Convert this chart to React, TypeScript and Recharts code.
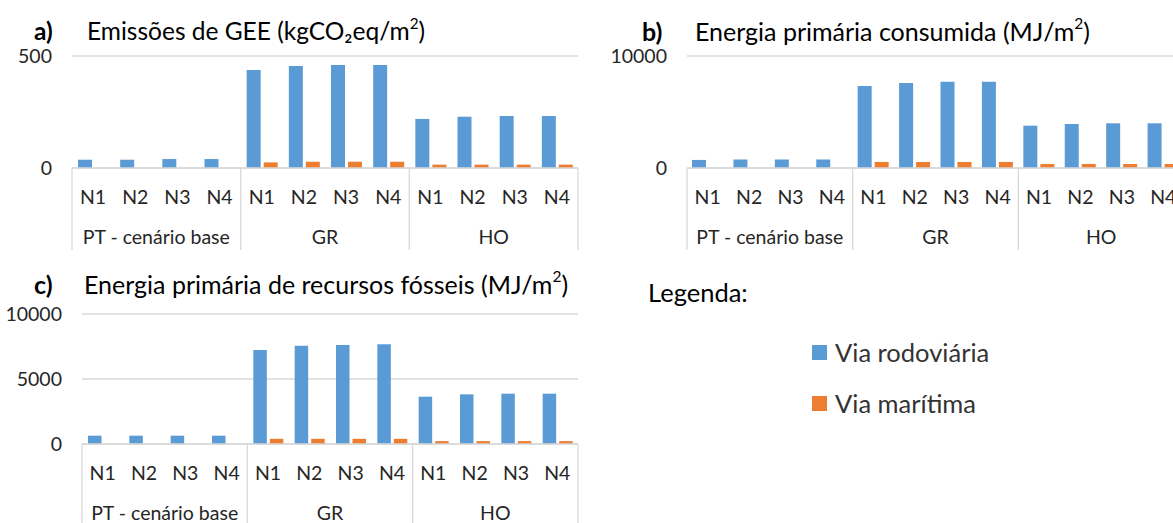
import { BarChart, Bar, XAxis, YAxis, CartesianGrid } from "recharts";

const groups = ["PT - cenário base", "GR", "HO"];
const levels = ["N1", "N2", "N3", "N4"];
const seriesNames = ["Via rodoviária", "Via marítima"];

// a) Emissões de GEE (kgCO2eq/m2)
const ghgRoad = [37, 37, 40, 40, 437, 455, 460, 460, 219, 229, 232, 232];
const ghgSea = [0, 0, 0, 0, 25, 28, 28, 28, 15, 15, 15, 15];

// b) Energia primária consumida (MJ/m2)
const peRoad = [720, 760, 760, 760, 7320, 7590, 7700, 7700, 3780, 3930, 3990, 3990];
const peSea = [0, 0, 0, 0, 540, 540, 540, 540, 360, 360, 360, 360];

// c) Energia primária de recursos fósseis (MJ/m2)
const fosRoad = [640, 640, 640, 640, 7230, 7560, 7610, 7670, 3640, 3820, 3870, 3870];
const fosSea = [0, 0, 0, 0, 400, 400, 400, 400, 220, 220, 220, 220];

const BLUE = "#5B9BD5";
const ORANGE = "#ED7D31";
const GRID = "#D9D9D9";
const FONT = "Lato, 'Open Sans', sans-serif";
const TICK_SIZE = 19.5;

function build(road: number[], sea: number[]) {
  return road.map((r, i) => ({
    n: levels[i % 4],
    g: groups[Math.floor(i / 4)],
    road: r,
    sea: sea[i],
  }));
}

type PanelProps = {
  left: number;
  top: number;
  width: number;
  height: number;
  yWidth: number;
  mTop: number;
  mRight: number;
  xHeight: number;
  max: number;
  ticks: number[];
  barSize: number;
  road: number[];
  sea: number[];
};

function Panel(p: PanelProps) {
  const data = build(p.road, p.sea);
  const plotW = p.width - p.yWidth - p.mRight;
  const band = plotW / data.length;

  const renderTick = (props: any) => {
    const { x, y, payload, index } = props;
    const half = payload && payload.offset ? payload.offset : band / 2;
    const leftEdge = x - half;
    const out: any[] = [];
    out.push(
      <text key="n" x={x} y={y + 36} textAnchor="middle" fontSize={TICK_SIZE} fill="#262626" fontFamily={FONT}>
        {data[index].n}
      </text>
    );
    if (index % 4 === 0) {
      out.push(<line key="l" x1={leftEdge} x2={leftEdge} y1={y} y2={y + p.xHeight} stroke={GRID} strokeWidth={1.3} />);
      out.push(
        <text key="g" x={leftEdge + band * 2} y={y + 76} textAnchor="middle" fontSize={TICK_SIZE} fill="#262626" fontFamily={FONT}>
          {data[index].g}
        </text>
      );
    }
    if (index === data.length - 1) {
      const r = x + half;
      out.push(<line key="r" x1={r} x2={r} y1={y} y2={y + p.xHeight} stroke={GRID} strokeWidth={1.3} />);
    }
    return <g>{out}</g>;
  };

  return (
    <div style={{ position: "absolute", left: p.left, top: p.top }}>
      <BarChart
        width={p.width}
        height={p.height}
        data={data}
        margin={{ top: p.mTop, right: p.mRight, left: 0, bottom: 0 }}
        barGap={3}
        barSize={p.barSize}
      >
        <CartesianGrid vertical={false} stroke={GRID} strokeWidth={1.3} />
        <XAxis
          dataKey="n"
          interval={0}
          height={p.xHeight}
          tickLine={false}
          tickSize={0}
          tickMargin={0}
          axisLine={{ stroke: GRID, strokeWidth: 1.3 }}
          tick={renderTick}
        />
        <YAxis
          width={p.yWidth}
          domain={[0, p.max]}
          ticks={p.ticks}
          interval={0}
          axisLine={false}
          tickLine={false}
          tickSize={0}
          tickMargin={20}
          tick={{ fontSize: TICK_SIZE, fill: "#262626", fontFamily: FONT }}
        />
        <Bar dataKey="road" name={seriesNames[0]} fill={BLUE} isAnimationActive={false} />
        <Bar dataKey="sea" name={seriesNames[1]} fill={ORANGE} isAnimationActive={false} />
      </BarChart>
    </div>
  );
}

function Title({ left, top, tag, tagLeft, size, children }: any) {
  return (
    <div
      style={{
        position: "absolute",
        top,
        left: 0,
        fontFamily: FONT,
        fontSize: size || 24.5,
        lineHeight: "30px",
        color: "#000",
        whiteSpace: "nowrap",
      }}
    >
      <span style={{ position: "absolute", left: tagLeft, fontWeight: 700 }}>{tag}</span>
      <span style={{ position: "absolute", left }}>{children}</span>
    </div>
  );
}

const sup = (s: string) => <sup style={{ fontSize: "0.62em", lineHeight: 0, verticalAlign: "0.75em" }}>{s}</sup>;

export default function App() {
  return (
    <div
      style={{
        position: "absolute",
        left: 0,
        top: 0,
        width: 1173,
        height: 523,
        overflow: "hidden",
        background: "#fff",
      }}
    >
      <Title tag="a)" tagLeft={34} left={87} top={16}>
        Emissões de GEE (kgCO₂eq/m{sup("2")})
      </Title>
      <Title tag="b)" tagLeft={642} left={695} top={16} size={25}>
        Energia primária consumida (MJ/m{sup("2")})
      </Title>
      <Title tag="c)" tagLeft={34} left={84} top={269} size={25}>
        Energia primária de recursos fósseis (MJ/m{sup("2")})
      </Title>

      <Panel left={0} top={0} width={590} height={250} yWidth={72} mTop={56} mRight={12} xHeight={82}
        max={500} ticks={[0, 500]} barSize={14} road={ghgRoad} sea={ghgSea} />
      <Panel left={600} top={0} width={600} height={250} yWidth={87} mTop={56} mRight={16} xHeight={82}
        max={10000} ticks={[0, 10000]} barSize={14} road={peRoad} sea={peSea} />
      <Panel left={0} top={260} width={590} height={263} yWidth={82} mTop={54} mRight={12} xHeight={79}
        max={10000} ticks={[0, 5000, 10000]} barSize={13.5} road={fosRoad} sea={fosSea} />

      <div style={{ position: "absolute", left: 648, top: 277, fontFamily: FONT, fontSize: 25.5, color: "#000", lineHeight: "30px" }}>
        Legenda:
      </div>
      {seriesNames.map((name, i) => (
        <div
          key={name}
          style={{
            position: "absolute",
            left: 812,
            top: 337 + i * 51,
            height: 30,
            display: "flex",
            alignItems: "center",
            fontFamily: FONT,
            fontSize: 25.5,
            color: "#333",
            whiteSpace: "nowrap",
          }}
        >
          <span style={{ width: 15, height: 15, background: i === 0 ? BLUE : ORANGE, marginRight: 8, display: "inline-block" }} />
          {name}
        </div>
      ))}
    </div>
  );
}
